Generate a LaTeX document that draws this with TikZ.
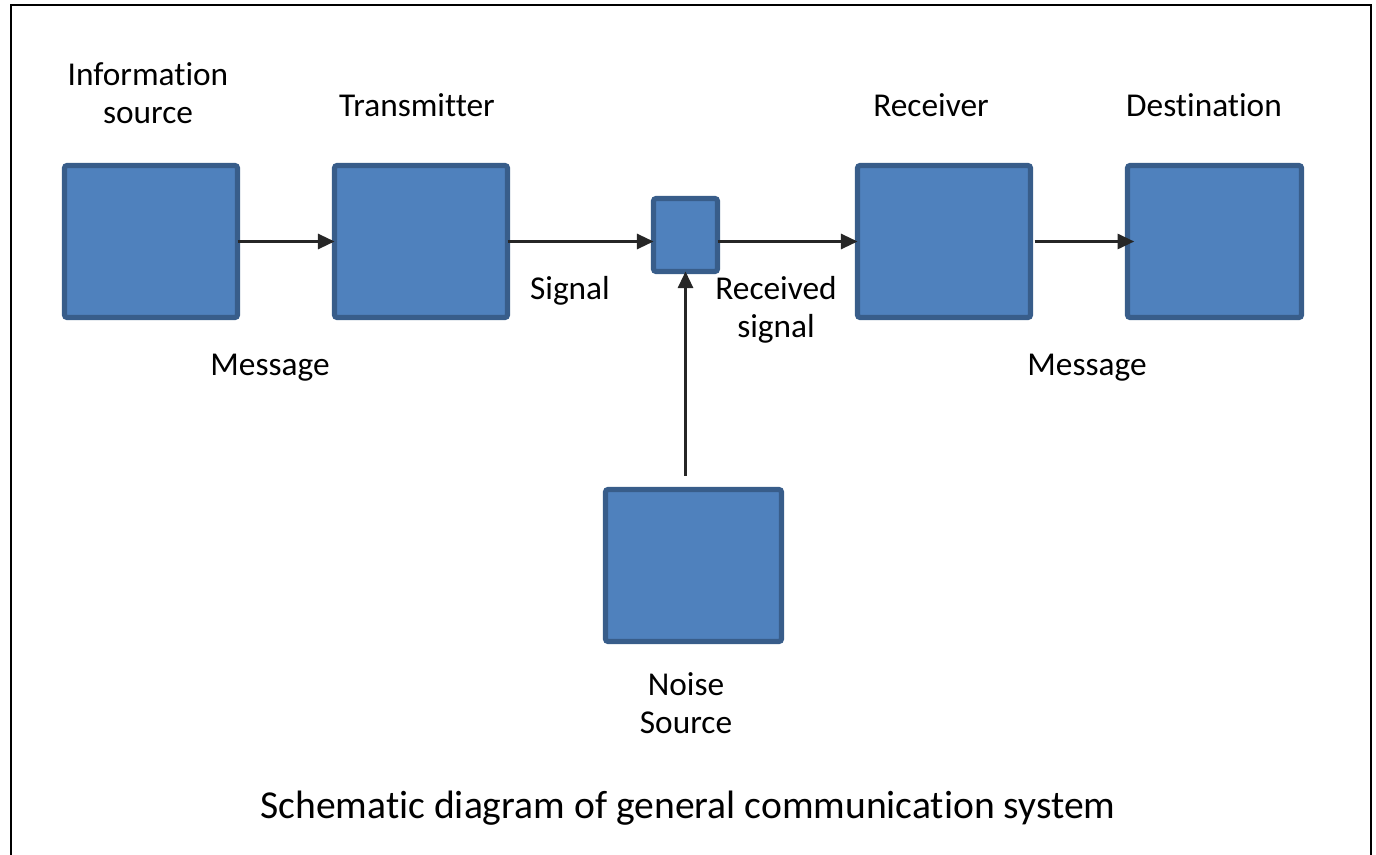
\documentclass[tikz,border=0pt]{standalone}
\usepackage{fontspec}
\setmainfont{Carlito}[Ligatures=NoCommon]
\usetikzlibrary{arrows.meta}
\definecolor{boxfill}{HTML}{4F81BD}
\definecolor{boxline}{HTML}{385D8A}
\tikzset{
  blk/.style={draw=boxline, fill=boxfill, line width=3.9pt, rounded corners=2pt, inner sep=0pt, outer sep=0pt},
  lbl/.style={font=\fontsize{25}{28.5}\selectfont, align=center, inner sep=0pt, text=black},
  conn/.style={line width=1.6pt, draw=black!85, -{Triangle[length=12.5pt,width=11.5pt]}},
}
\begin{document}
\begin{tikzpicture}[x=0.75pt,y=-0.75pt]
\useasboundingbox (0,0) rectangle (1376,855);
\draw[line width=2.2pt, line cap=butt] (11,860) -- (11,5) -- (1371,5) -- (1371,860);

\node[blk, minimum width=129.75pt, minimum height=114pt] (info) at (151,241.5) {};
\node[blk, minimum width=129.75pt, minimum height=114pt] (trans) at (421,241.5) {};
\node[blk, minimum width=48pt, minimum height=54.75pt] (chan) at (685.5,235) {};
\node[blk, minimum width=129.75pt, minimum height=114pt] (rec) at (944,241.5) {};
\node[blk, minimum width=130.5pt, minimum height=114pt] (dest) at (1214.5,241.5) {};
\node[blk, minimum width=132pt, minimum height=114pt] (noise) at (693.5,565.5) {};

\draw[conn] (info.east) -- (trans.west);
\draw[conn] (trans.east) -- (chan.west |- trans.east);
\draw[conn] (chan.east |- rec.west) -- (rec.west);
\draw[conn, shorten <=3pt, shorten >=-5pt] (rec.east) -- (dest.west);
\draw[conn, shorten <=10.5pt] (chan.south |- noise.north) -- (chan.south);

\node[lbl] (infolbl) at (148,93) {Information\\source};
\node[lbl] (translbl) at (417,105) {Transmitter};
\node[lbl] (reclbl) at (931,105) {Receiver};
\node[lbl] (destlbl) at (1204,105) {Destination};
\node[lbl] (msg1) at (270,368) {Message};
\node[lbl] (siglbl) at (570,291) {Signal};
\node[lbl] (recsig) at (776,310) {Received\\signal};
\node[lbl] (msg2) at (1087,368) {Message};
\node[lbl] (noiselbl) at (686,703) {Noise\\Source};
\node[lbl, font=\fontsize{29.7}{34}\selectfont] (caption) at (688,808) {Schematic diagram of general communication system};
\end{tikzpicture}
\end{document}
